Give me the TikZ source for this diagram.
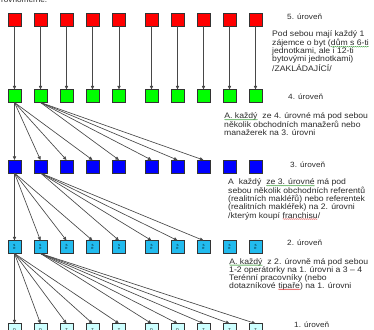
\documentclass[tikz,border=0pt]{standalone}
\usepackage{fontspec}
\setmainfont{Liberation Sans}
\newfontfamily\notefont{Liberation Sans}[FakeStretch=1.08]
\usetikzlibrary{arrows.meta,decorations.pathmorphing}

\definecolor{lvred}{HTML}{FF0000}
\definecolor{lvgreen}{HTML}{00FF00}
\definecolor{lvblue}{HTML}{0000FF}
\definecolor{lvcyan}{HTML}{22BBEE}
\definecolor{lvpale}{HTML}{CCFFFF}
\definecolor{txt}{HTML}{2A2A2A}
\definecolor{squiggreen}{HTML}{3CA03C}
\definecolor{squigred}{HTML}{E03030}

% wavy proofing underline under a word
\newcommand\squig[2]{\tikz[baseline=(sq.base),x=1pt,y=1pt]{%
  \node[inner sep=0pt,outer sep=0pt] (sq) {#2};
  \draw[#1,line width=0.35pt,decorate,
        decoration={snake,amplitude=0.45pt,segment length=2pt}]
    ([yshift=-1pt]sq.base west) -- ([yshift=-1pt]sq.base east);}}

\begin{document}
\begin{tikzpicture}[x=1pt,y=-1pt,
  box/.style={minimum size=13pt,inner sep=0pt,outer sep=0pt,
              draw=black!80,line width=0.6pt},
  redbox/.style={box,fill=lvred},
  greenbox/.style={box,fill=lvgreen},
  bluebox/.style={box,fill=lvblue},
  cyanbox/.style={box,fill=lvcyan,font=\fontsize{3}{3}\selectfont,align=center},
  palebox/.style={box,fill=lvpale,font=\fontsize{4}{4}\selectfont},
  link/.style={draw=black!72,line width=0.65pt,
               -{Triangle[length=3.6pt,width=3.2pt]}},
  lbl/.style={anchor=west,inner sep=0pt,text=txt,
              font=\notefont\fontsize{7.6}{8}\selectfont},
  para/.style={anchor=north west,align=left,inner sep=0pt,text=txt,
               font=\notefont\fontsize{8}{8.1}\selectfont}]
\useasboundingbox (0,0) rectangle (374,329);
\clip (0,0) rectangle (374,329);

% line of text running off the top edge
\node[lbl,anchor=base west] (top) at (1,2.5) {rovnoměrně.};

% the five rows of boxes
\foreach \x/\t [count=\i] in {14.5/O,40.5/O,66.5/T,92.5/T,119/T,
                               151.5/O,177.5/O,203.5/T,229.5/T,255.5/T}{
  \node[redbox]   (r\i) at (\x,19.5)  {};
  \node[greenbox] (g\i) at (\x,96)    {};
  \node[bluebox]  (b\i) at (\x,166.5) {};
  \node[cyanbox]  (c\i) at (\x,247)   {S\\R};
  \node[palebox]  (p\i) at (\x,330)   {\t};
  \draw[link] (r\i) -- (g\i);
}

% level 4 -> level 3
\foreach \j in {1,...,4}{\draw[link] (g1.south) -- (b\j.north);}
\foreach \j in {5,...,8}{\draw[link] (g2.south) -- (b\j.north);}
% level 3 -> level 2
\foreach \j in {1,...,4}{\draw[link] (b1.south) -- (c\j.north);}
\foreach \j in {5,...,8}{\draw[link] (b2.south) -- (c\j.north);}
% level 2 -> level 1
\foreach \j in {1,...,5}{\draw[link] (c1.south) -- (p\j.north);}
\foreach \j in {6,...,10}{\draw[link] (c2.south) -- (p\j.north);}

% level captions
\node[lbl] (l5) at (287,17)  {5. úroveň};
\node[lbl] (l4) at (288,97)  {4. úroveň};
\node[lbl] (l3) at (290,165) {3. úroveň};
\node[lbl] (l2) at (287,243) {2. úroveň};
\node[lbl] (l1) at (294,325) {1. úroveň};

% explanatory notes
\node[para] (n5) at (272,30.5) {Pod sebou mají každý 1\\
  zájemce o byt (\squig{squiggreen}{dům s 6-ti}\\
  jednotkami, ale i 12-ti\\
  bytovými jednotkami)\\
  /ZAKLÁDAJÍCÍ/};
\node[para] (n4) at (224,112.5) {\squig{squiggreen}{A. každý}\ \ ze 4. úrovné má pod sebou\\
  několik obchodních manažerů nebo\\
  manažerek na 3. úrovni};
\node[para] (n3) at (228,178.5) {A\ \ každý\ \ \squig{squiggreen}{ze 3. úrovné} má pod\\
  sebou několik obchodních referentů\\
  (realitních makléřů) nebo referentek\\
  (realitních makléřek) na 2. úrovni\\
  /kterým koupí \squig{squigred}{franchisu}/};
\node[para] (n2) at (229,258) {\squig{squiggreen}{A. každý}\ \ z 2. úrovně má pod sebou\\
  1-2 operátorky na 1. úrovni a 3 – 4\\
  Terénní pracovníky (nebo\\
  dotazníkové \squig{squigred}{tipaře}) na 1. úrovni};
\end{tikzpicture}
\end{document}
